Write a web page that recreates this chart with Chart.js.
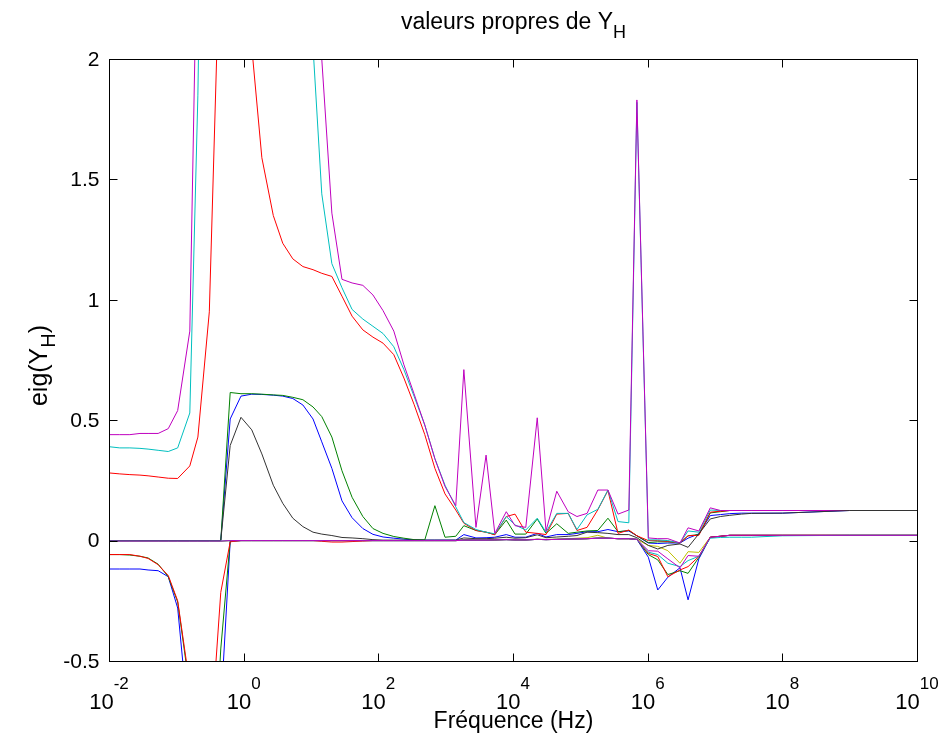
<!DOCTYPE html>
<html>
<head>
<meta charset="utf-8">
<title>valeurs propres de Y_H</title>
<script src="https://cdn.jsdelivr.net/npm/chart.js@4.4.1/dist/chart.umd.min.js"></script>
<style>
  html, body { margin: 0; padding: 0; background: #fff; }
  canvas { display: block; }
</style>
</head>
<body>
<canvas id="myChart" width="947" height="736"></canvas>
<script>
// frequency points, as log10(f / Hz)
const freqExp = [
  -2.00, -1.84, -1.69, -1.54, -1.42, -1.27, -1.12, -0.98, -0.80, -0.68,
  -0.51, -0.34, -0.20, -0.04, 0.12, 0.27, 0.44, 0.58, 0.73, 0.88,
  1.03, 1.16, 1.31, 1.46, 1.61, 1.77, 1.92, 2.07, 2.23, 2.38,
  2.53, 2.69, 2.84, 2.99, 3.15, 3.27, 3.45, 3.60, 3.73, 3.90,
  4.03, 4.19, 4.36, 4.49, 4.65, 4.82, 4.95, 5.10, 5.26, 5.41,
  5.56, 5.72, 5.84, 6.01, 6.15, 6.30, 6.48, 6.60, 6.76, 6.93,
  7.08, 7.22, 7.39, 7.54, 8.00, 9.00, 10.00
];

const xTickExp = [-2, 0, 2, 4, 6, 8, 10];
const yTicks = [-0.5, 0, 0.5, 1, 1.5, 2];
const yTickLabels = ['-0.5', '0', '0.5', '1', '1.5', '2'];

// eigenvalues, one array per curve (same order as the frequency points)
const blue1 = [
  0, 0, 0, 0, 0, 0, 0, 0, 0, 0,
  0, 0, 0.505, 0.6, 0.608, 0.607, 0.604, 0.6, 0.59, 0.563,
  0.505, 0.41, 0.3, 0.165, 0.095, 0.05, 0.026, 0.015, 0.01, 0.006,
  0.003, 0.002, 0.002, 0.002, 0.002, 0.025, 0.011, 0.012, 0.014, 0.025,
  0.014, 0.014, 0.03, 0.015, 0.025, 0.025, 0.03, 0.037, 0.037, 0.046,
  0.037, 0.04, 0.02, -0.01, -0.012, -0.01, -0.01, 0.01, 0.028, 0.104,
  0.108, 0.112, 0.114, 0.114, 0.114, 0.125, 0.125
];
const green1 = [
  0, 0, 0, 0, 0, 0, 0, 0, 0, 0,
  0, 0, 0.615, 0.61, 0.61, 0.608, 0.605, 0.603, 0.595, 0.585,
  0.555, 0.515, 0.43, 0.29, 0.18, 0.1, 0.05, 0.03, 0.017, 0.01,
  0.004, 0.003, 0.145, 0.014, 0.018, 0.062, 0.042, 0.035, 0.025, 0.085,
  0.027, 0.027, 0.09, 0.03, 0.07, 0.03, 0.035, 0.04, 0.042, 0.093,
  0.037, 0.042, 0.02, -0.008, -0.005, -0.005, -0.01, 0.02, 0.025, 0.115,
  0.12, 0.125, 0.125, 0.125, 0.125, 0.125, 0.125
];
const red1 = [
  0.281, 0.277, 0.274, 0.272, 0.269, 0.264, 0.259, 0.258, 0.31, 0.43,
  0.95, 2.6, 5, 4, 2.05, 1.59, 1.35, 1.235, 1.17, 1.138,
  1.125, 1.11, 1.097, 1.015, 0.932, 0.875, 0.845, 0.82, 0.772, 0.675,
  0.566, 0.44, 0.3, 0.194, 0.127, 0.072, 0.042, 0.035, 0.024, 0.1,
  0.11, 0.035, 0.03, 0.025, 0.11, 0.113, 0.042, 0.055, 0.128, 0.208,
  0.03, 0.044, 0.02, 0, 0, -0.003, -0.01, 0.02, 0.022, 0.118,
  0.122, 0.125, 0.125, 0.125, 0.125, 0.125, 0.125
];
const cyan1 = [
  0.39, 0.385, 0.385, 0.383, 0.38, 0.375, 0.37, 0.385, 0.53, 1.85,
  5, 8, 8, 8, 8, 8, 8, 8, 8, 5,
  2.05, 1.44, 1.15, 1.05, 0.96, 0.92, 0.89, 0.86, 0.805, 0.71,
  0.6, 0.48, 0.34, 0.23, 0.14, 0.075, 0.046, 0.035, 0.028, 0.1,
  0.065, 0.044, 0.093, 0.035, 0.113, 0.113, 0.046, 0.107, 0.13, 0.21,
  0.079, 0.074, 1.82, 0.003, 0.003, 0, -0.01, 0.04, 0.035, 0.127,
  0.125, 0.125, 0.125, 0.125, 0.125, 0.125, 0.125
];
const magenta1 = [
  0.44, 0.44, 0.44, 0.445, 0.445, 0.445, 0.465, 0.54, 0.87, 2.7,
  8, 8, 8, 8, 8, 8, 8, 8, 8, 8,
  4, 2.0, 1.36, 1.085, 1.07, 1.06, 1.02, 0.955, 0.87, 0.73,
  0.61, 0.48, 0.34, 0.225, 0.145, 0.71, 0.055, 0.355, 0.03, 0.12,
  0.062, 0.055, 0.51, 0.04, 0.205, 0.12, 0.1, 0.113, 0.21, 0.21,
  0.11, 0.127, 1.83, 0.011, 0.008, 0.008, -0.01, 0.053, 0.04, 0.136,
  0.125, 0.125, 0.125, 0.125, 0.125, 0.125, 0.125
];
const yellow1 = [
  -0.003, -0.003, -0.003, -0.003, -0.003, -0.003, -0.003, -0.003, -0.003, -0.003,
  -0.003, -0.003, 0, 0, 0, 0, 0, 0, 0, 0,
  0, 0, 0, 0, 0, 0, 0, 0, 0, 0,
  0, 0, 0, 0, 0, 0.003, 0.002, 0.002, 0.003, 0.005,
  0.004, 0.004, 0.006, 0.005, 0.006, 0.008, 0.01, 0.012, 0.022, 0.01,
  0.008, 0.008, 0.005, -0.02, -0.024, -0.042, -0.094, -0.046, -0.049, 0.014,
  0.018, 0.022, 0.022, 0.022, 0.022, 0.022, 0.022
];
const black1 = [
  0, 0, 0, 0, 0, 0, 0, 0, 0, 0,
  0, 0, 0.395, 0.512, 0.46, 0.36, 0.23, 0.155, 0.093, 0.058,
  0.035, 0.027, 0.021, 0.013, 0.011, 0.008, 0.004, 0.002, 0.002, 0.002,
  0.002, 0.002, 0.002, 0.002, 0.002, 0.011, 0.008, 0.008, 0.01, 0.014,
  0.01, 0.012, 0.024, 0.012, 0.015, 0.018, 0.021, 0.035, 0.033, 0.03,
  0.025, 0.025, 0.012, -0.02, -0.035, -0.02, -0.014, -0.028, 0.028, 0.09,
  0.1, 0.105, 0.11, 0.113, 0.114, 0.125, 0.125
];
const blue2 = [
  -0.118, -0.118, -0.118, -0.118, -0.122, -0.125, -0.15, -0.28, -0.81, -1.5,
  -1.5, -0.7, -0.003, 0, 0, 0, 0, 0, 0, 0,
  0, 0, 0, 0, 0, 0, 0, 0, 0, 0,
  0, 0, 0, 0, 0, 0.002, 0.002, 0.002, 0.003, 0.004,
  0.003, 0.003, 0.005, 0.004, 0.005, 0.006, 0.007, 0.008, 0.01, 0.01,
  0.008, 0.008, 0.005, -0.069, -0.205, -0.152, -0.113, -0.246, -0.076, 0.014,
  0.018, 0.022, 0.022, 0.022, 0.022, 0.022, 0.022
];
const green2 = [
  -0.058, -0.058, -0.06, -0.065, -0.072, -0.098, -0.15, -0.255, -0.62, -1.3,
  -1.3, -0.45, -0.002, 0, 0, 0, 0, 0, 0, 0,
  0, 0, 0, 0, 0, 0, 0, 0, 0, 0,
  0, 0, 0, 0, 0, 0.002, 0.002, 0.002, 0.003, 0.004,
  0.003, 0.003, 0.005, 0.004, 0.005, 0.006, 0.007, 0.008, 0.01, 0.01,
  0.008, 0.008, 0.005, -0.058, -0.08, -0.141, -0.125, -0.136, -0.07, 0.014,
  0.018, 0.022, 0.022, 0.022, 0.022, 0.022, 0.022
];
const red2 = [
  -0.058, -0.058, -0.058, -0.065, -0.074, -0.1, -0.145, -0.25, -0.6, -1.2,
  -0.9, -0.215, -0.005, 0, 0, 0, 0, 0, 0, 0,
  0, -0.003, -0.006, -0.006, -0.004, -0.002, 0, 0, 0, 0,
  0, 0, 0, 0, 0, 0.002, 0.002, 0.002, 0.003, 0.004,
  0.003, 0.003, 0.005, 0.004, 0.005, 0.006, 0.007, 0.008, 0.01, 0.01,
  0.008, 0.008, 0.005, -0.053, -0.066, -0.15, -0.122, -0.108, -0.066, 0.014,
  0.018, 0.022, 0.022, 0.022, 0.022, 0.022, 0.022
];
const cyan2 = [
  -0.002, -0.002, -0.002, -0.002, -0.002, -0.002, -0.002, -0.002, -0.002, -0.002,
  -0.002, -0.002, 0, 0, 0, 0, 0, 0, 0, 0,
  0, 0, 0, 0, 0, 0, 0, 0, 0, 0,
  0, 0, 0, 0, 0, 0.002, 0.002, 0.002, 0.003, 0.004,
  0.003, 0.003, 0.005, 0.004, 0.005, 0.006, 0.007, 0.008, 0.01, 0.01,
  0.008, 0.008, 0.005, -0.048, -0.058, -0.094, -0.108, -0.083, -0.065, 0.01,
  0.013, 0.014, 0.014, 0.014, 0.02, 0.022, 0.022
];
const magenta2 = [
  -0.002, -0.002, -0.002, -0.002, -0.002, -0.002, -0.002, -0.002, -0.002, -0.002,
  -0.002, -0.002, 0, 0, 0, 0, 0, 0, 0, 0,
  0, 0, 0, 0, 0, 0, 0, 0, 0, 0,
  0, 0, 0, 0, 0, 0.002, 0.002, 0.002, 0.003, 0.004,
  0.003, 0.003, 0.005, 0.004, 0.005, 0.006, 0.007, 0.008, 0.01, 0.01,
  0.008, 0.008, 0.005, -0.042, -0.044, -0.076, -0.113, -0.062, -0.065, 0.014,
  0.018, 0.022, 0.022, 0.022, 0.022, 0.022, 0.022
];

// matlab plot order: b g r c m y k b g r c m
const series = [
  { values: blue1, color: '#0000ff' },
  { values: green1, color: '#008000' },
  { values: red1, color: '#ff0000' },
  { values: cyan1, color: '#00bfbf' },
  { values: magenta1, color: '#bf00bf' },
  { values: yellow1, color: '#bfbf00' },
  { values: black1, color: '#333333' },
  { values: blue2, color: '#0000ff' },
  { values: green2, color: '#008000' },
  { values: red2, color: '#ff0000' },
  { values: cyan2, color: '#00bfbf' },
  { values: magenta2, color: '#bf00bf' }
];

const FONT = '"Liberation Sans", Arial, Helvetica, sans-serif';

// draws the boxed axes, inward ticks and the tex-like labels
const matlabAxes = {
  id: 'matlabAxes',
  afterDraw(chart) {
    const { ctx, chartArea: a, scales: { x, y } } = chart;
    const L = Math.round(a.left) + 0.5, R = Math.round(a.right) + 0.5;
    const T = Math.round(a.top) + 0.5, B = Math.round(a.bottom) + 0.5;
    ctx.save();
    ctx.strokeStyle = '#000';
    ctx.lineWidth = 1;
    ctx.strokeRect(L, T, R - L, B - T);

    ctx.beginPath();
    xTickExp.forEach(e => {
      const px = Math.round(x.getPixelForValue(Math.pow(10, e))) + 0.5;
      ctx.moveTo(px, B); ctx.lineTo(px, B - 8);
      ctx.moveTo(px, T); ctx.lineTo(px, T + 8);
    });
    yTicks.forEach(v => {
      const py = Math.round(y.getPixelForValue(v)) + 0.5;
      ctx.moveTo(L, py); ctx.lineTo(L + 8, py);
      ctx.moveTo(R, py); ctx.lineTo(R - 8, py);
    });
    ctx.stroke();

    ctx.fillStyle = '#000';
    // y tick labels
    ctx.font = '21px ' + FONT;
    ctx.textAlign = 'right';
    ctx.textBaseline = 'middle';
    yTicks.forEach((v, i) => {
      ctx.fillText(yTickLabels[i], L - 10, y.getPixelForValue(v) + 1);
    });

    // x tick labels 10^n
    ctx.textAlign = 'left';
    ctx.textBaseline = 'alphabetic';
    xTickExp.forEach(e => {
      const px = x.getPixelForValue(Math.pow(10, e));
      ctx.font = '22px ' + FONT;
      const wBase = ctx.measureText('10').width;
      ctx.font = '17px ' + FONT;
      const wExp = ctx.measureText(String(e)).width;
      const start = px - (wBase + wExp) / 2;
      ctx.font = '22px ' + FONT;
      ctx.fillText('10', start, B + 47);
      ctx.font = '17px ' + FONT;
      ctx.fillText(String(e), start + wBase, B + 27);
    });

    // title with subscript
    const cx = (L + R) / 2;
    ctx.font = '23px ' + FONT;
    const tMain = 'valeurs propres de Y';
    const wMain = ctx.measureText(tMain).width;
    ctx.font = '18px ' + FONT;
    const wSub = ctx.measureText('H').width;
    let tx = cx - (wMain + wSub) / 2;
    ctx.font = '23px ' + FONT;
    ctx.fillText(tMain, tx, 29);
    ctx.font = '18px ' + FONT;
    ctx.fillText('H', tx + wMain, 38);

    // x label
    ctx.font = '23px ' + FONT;
    ctx.textAlign = 'center';
    ctx.fillText('Fréquence (Hz)', cx, B + 66);

    // y label, rotated
    const cy = (T + B) / 2 + 5;
    ctx.save();
    ctx.translate(47, cy);
    ctx.rotate(-Math.PI / 2);
    ctx.textAlign = 'left';
    ctx.font = '25px ' + FONT;
    const w1 = ctx.measureText('eig(Y').width;
    const w3 = ctx.measureText(')').width;
    ctx.font = '20px ' + FONT;
    const w2 = ctx.measureText('H').width;
    const sx = -(w1 + w2 + w3) / 2;
    ctx.font = '25px ' + FONT;
    ctx.fillText('eig(Y', sx, 0);
    ctx.font = '20px ' + FONT;
    ctx.fillText('H', sx + w1, 8);
    ctx.font = '25px ' + FONT;
    ctx.fillText(')', sx + w1 + w2, 0);
    ctx.restore();

    ctx.restore();
  }
};

const ctx = document.getElementById('myChart').getContext('2d');

const myChart = new Chart(ctx, {
  type: 'line',
  data: {
    datasets: series.map((s, i) => ({
      data: freqExp.map((e, j) => ({ x: Math.pow(10, e), y: s.values[j] })),
      borderColor: s.color,
      borderWidth: 1,
      pointRadius: 0,
      tension: 0,
      fill: false,
      order: series.length - i
    }))
  },
  options: {
    responsive: false,
    animation: false,
    layout: { padding: { left: 109, right: 30, top: 59, bottom: 75 } },
    plugins: {
      legend: { display: false },
      tooltip: { enabled: false }
    },
    scales: {
      x: { type: 'logarithmic', min: 1e-2, max: 1e10, display: false },
      y: { type: 'linear', min: -0.5, max: 2, display: false }
    }
  },
  plugins: [matlabAxes]
});
</script>
</body>
</html>
